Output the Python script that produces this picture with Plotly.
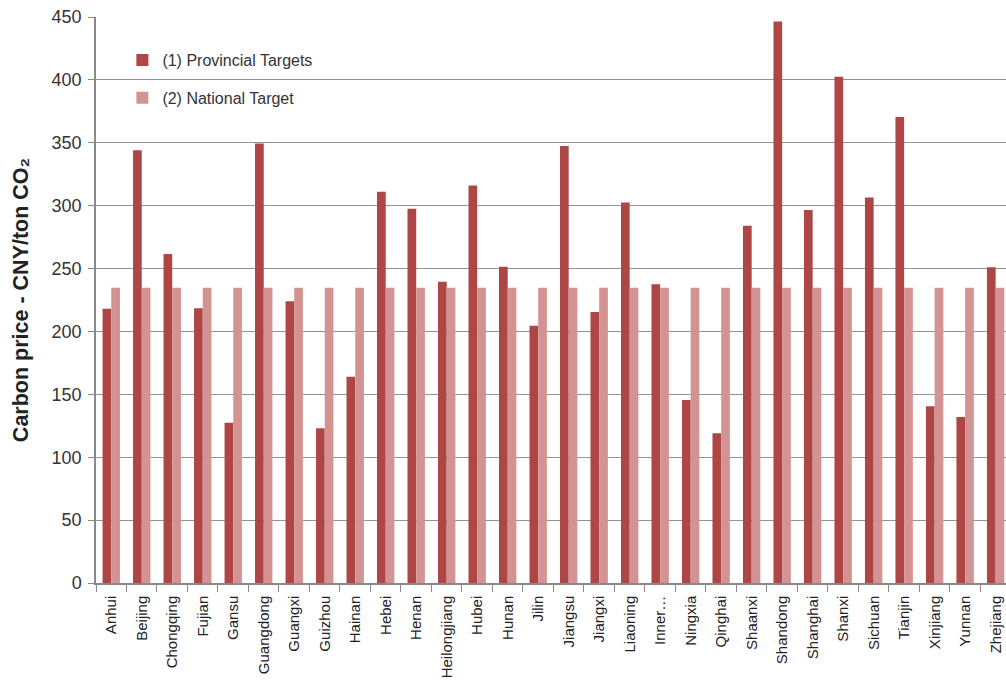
import plotly.graph_objects as go

provinces = ["Anhui", "Beijing", "Chongqing", "Fujian", "Gansu", "Guangdong", "Guangxi",
             "Guizhou", "Hainan", "Hebei", "Henan", "Heilongjiang", "Hubei", "Hunan", "Jilin",
             "Jiangsu", "Jiangxi", "Liaoning", "Inner…", "Ningxia", "Qinghai", "Shaanxi",
             "Shandong", "Shanghai", "Shanxi", "Sichuan", "Tianjin", "Xinjiang", "Yunnan",
             "Zhejiang"]

provincial = [218, 344, 261.5, 218.5, 127.5, 349.5, 224, 123, 164, 311, 297.5, 239.5, 316, 251.5, 204.5,
              347.5, 215.5, 302.5, 237.5, 145.5, 119, 284, 446.5, 296.5, 402.5, 306.5, 370.5,
              140.5, 132, 251]

national = [234.7] * len(provinces)

y_ticks = [0, 50, 100, 150, 200, 250, 300, 350, 400, 450]

FONT = "Liberation Sans, Arial, Helvetica, sans-serif"

fig = go.Figure()
fig.add_trace(go.Bar(x=provinces, y=provincial, name="(1) Provincial Targets",
                     marker=dict(color="#AD4644", line=dict(width=0)), legend="legend",
                     showlegend=True))
fig.add_trace(go.Bar(x=provinces, y=national, name="(2) National Target",
                     marker=dict(color="#D49393", line=dict(width=0)), legend="legend2",
                     showlegend=True))

fig.update_layout(
    width=1006, height=685,
    margin=dict(l=96, r=0, t=17, b=102),
    paper_bgcolor="white", plot_bgcolor="white",
    showlegend=True,
    barmode="group", bargap=0.43, bargroupgap=0,
    font=dict(family=FONT, color="#333333"),
    legend=dict(x=0.029, y=0.924, xanchor="left", yanchor="middle",
                bgcolor="rgba(0,0,0,0)", font=dict(size=16, color="#333333")),
    legend2=dict(x=0.029, y=0.857, xanchor="left", yanchor="middle",
                 bgcolor="rgba(0,0,0,0)", font=dict(size=16, color="#333333")),
    xaxis=dict(
        range=[-0.5, 29.34],
        tickangle=-90,
        tickfont=dict(size=15, color="#222222"),
        ticks="outside", tickson="boundaries", ticklen=7, tickcolor="#888888",
        ticklabelstandoff=5,
        showline=True, linecolor="#888888", linewidth=1.5,
        showgrid=False,
    ),
    yaxis=dict(
        range=[0, 450],
        tickvals=y_ticks,
        tickfont=dict(size=18, color="#333333"),
        ticks="outside", ticklen=6, tickcolor="#888888",
        ticklabelstandoff=3,
        showline=True, linecolor="#888888", linewidth=1.5,
        showgrid=True, gridcolor="#939393", gridwidth=1.4,
        zeroline=False,
        title=dict(text="<b>Carbon price - CNY/ton CO₂</b>",
                   font=dict(size=21.5, color="#222222"), standoff=17),
    ),
)

fig.write_html("out.html")
